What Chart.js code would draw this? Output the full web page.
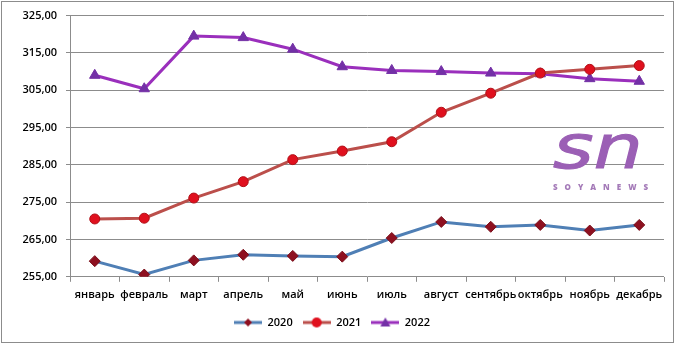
<!DOCTYPE html>
<html>
<head>
<meta charset="utf-8">
<script src="https://cdn.jsdelivr.net/npm/chart.js@4.4.1/dist/chart.umd.min.js"></script>
<style>
  html, body { margin: 0; padding: 0; background: #fff; }
  #wrap { position: relative; width: 680px; height: 343px; }
  #frame { position: absolute; left: 1px; top: 1px; width: 671px; height: 340px; border: 1px solid #8c8c8c; pointer-events: none; }
  #logo { position: absolute; left: 546px; top: 118px; width: 104px; text-align: center; color: #9b5fb5; pointer-events: none; }
  #logo .sn { font-family: "DejaVu Sans", sans-serif; font-style: italic; font-weight: 400; font-size: 60px; line-height: 58px; transform: scaleX(1.3); -webkit-text-stroke: 1px #9b5fb5; }
  #logo .name { font-family: "Open Sans", sans-serif; font-weight: 800; font-size: 8px; letter-spacing: 7px; margin-top: 5px; padding-left: 7px; color: #a47ab8; }
</style>
</head>
<body>
<div id="wrap">
  <canvas id="chart" width="680" height="343"></canvas>
  <div id="logo"><div class="sn">sn</div><div class="name">SOYANEWS</div></div>
  <div id="frame"></div>
</div>
<script>
'use strict';

/**
 * data
 */

const months = ["январь", "февраль", "март", "апрель", "май", "июнь",
  "июль", "август", "сентябрь", "октябрь", "ноябрь", "декабрь"];

const values2020 = [259.2, 255.6, 259.4, 260.9, 260.6, 260.4, 265.4, 269.7, 268.4, 268.9, 267.4, 268.9];
const values2021 = [270.5, 270.7, 276.1, 280.5, 286.4, 288.7, 291.2, 299.1, 304.2, 309.6, 310.6, 311.6];
const values2022 = [309.0, 305.4, 319.5, 319.1, 316.0, 311.3, 310.3, 310.0, 309.6, 309.4, 308.1, 307.4];

const yTicks = [255, 265, 275, 285, 295, 305, 315, 325];


/**
 * legend symbols: a short line with the marker on it
 */

const legendSymbol = function (lineColor, markerColor, shape) {
  const c = document.createElement("canvas");
  c.width = 28;
  c.height = 12;
  const ctx = c.getContext("2d");
  ctx.strokeStyle = lineColor;
  ctx.lineWidth = 3;
  ctx.beginPath();
  ctx.moveTo(0, 6);
  ctx.lineTo(28, 6);
  ctx.stroke();
  ctx.fillStyle = markerColor;
  ctx.beginPath();
  if (shape === "diamond") {
    ctx.moveTo(14, 2); ctx.lineTo(18, 6); ctx.lineTo(14, 10); ctx.lineTo(10, 6);
  } else if (shape === "circle") {
    ctx.arc(14, 6, 5, 0, Math.PI * 2);
  } else {
    ctx.moveTo(14, 1); ctx.lineTo(19, 10); ctx.lineTo(9, 10);
  }
  ctx.closePath();
  ctx.fill();
  return c;
}

const font = { family: "'Open Sans', sans-serif", size: 11, weight: "600" };

new Chart(document.getElementById("chart"), {
  type: "line",
  data: {
    labels: months,
    datasets: [
      {
        label: "2020",
        data: values2020,
        borderColor: "#4f7fb5",
        borderWidth: 3,
        pointStyle: "rectRot",
        pointRadius: 5.5,
        pointBackgroundColor: "#8e1020",
        pointBorderColor: "#7a0f1a",
        pointBorderWidth: 1,
        tension: 0
      },
      {
        label: "2021",
        data: values2021,
        borderColor: "#bb4f4b",
        borderWidth: 3,
        pointStyle: "circle",
        pointRadius: 5,
        pointBackgroundColor: "#e0101e",
        pointBorderColor: "#b01018",
        pointBorderWidth: 1,
        tension: 0
      },
      {
        label: "2022",
        data: values2022,
        borderColor: "#9a2fbc",
        borderWidth: 3,
        pointStyle: "triangle",
        pointRadius: 6,
        pointBackgroundColor: "#7330a6",
        pointBorderColor: "#7330a6",
        pointBorderWidth: 1,
        tension: 0
      }
    ]
  },
  options: {
    responsive: false,
    animation: false,
    layout: { padding: { top: 9, right: 16, left: 0, bottom: 5 } },
    plugins: {
      tooltip: { enabled: false },
      legend: {
        position: "bottom",
        labels: {
          usePointStyle: true,
          pointStyleWidth: 28,
          padding: 10,
          color: "#000",
          font: { family: "'Open Sans', sans-serif", size: 11, weight: "600" },
          generateLabels: function (chart) {
            const shapes = ["diamond", "circle", "triangle"];
            return chart.data.datasets.map(function (ds, i) {
              return {
                text: ds.label,
                pointStyle: legendSymbol(ds.borderColor, ds.pointBackgroundColor, shapes[i]),
                fillStyle: ds.borderColor,
                strokeStyle: ds.borderColor,
                lineWidth: 0,
                fontColor: "#000",
                datasetIndex: i
              };
            });
          }
        }
      }
    },
    scales: {
      x: {
        offset: true,
        grid: { display: true, drawOnChartArea: false, offset: true, tickLength: 5, color: "#8c8c8c" },
        border: { display: false },
        ticks: { color: "#000", font: font, maxRotation: 0, autoSkip: false, padding: 6 }
      },
      y: {
        min: 255,
        max: 325,
        afterFit: function (scale) { scale.width = 70; },
        afterBuildTicks: function (scale) {
          scale.ticks = yTicks.map(function (v) { return { value: v }; });
        },
        grid: { color: "#8c8c8c", tickLength: 4 },
        border: { display: true, color: "#8c8c8c" },
        ticks: {
          color: "#000",
          font: font,
          padding: 9,
          callback: function (v) { return v.toFixed(2).replace(".", ","); }
        }
      }
    }
  }
});
</script>
</body>
</html>
